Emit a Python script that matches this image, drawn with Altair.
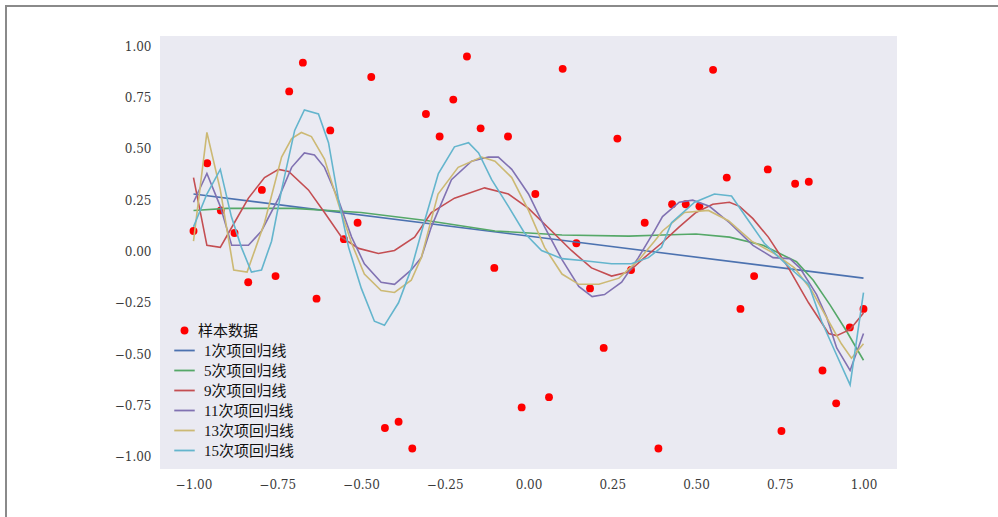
import altair as alt
import numpy as np
import pandas as pd

# ---- sample data (50 evenly spaced x values) ----
sample_x = list(np.round(np.linspace(-1, 1, 50), 4))
sample_y = [0.10, 0.43, 0.20, 0.09, -0.15, 0.30, -0.12, 0.78, 0.92, -0.23,
            0.59, 0.06, 0.14, 0.85, -0.86, -0.83, -0.96, 0.67, 0.56, 0.74,
            0.95, 0.60, -0.08, 0.56, -0.76, 0.28, -0.71, 0.89, 0.04, -0.18,
            -0.47, 0.55, -0.09, 0.14, -0.96, 0.23, 0.23, 0.22, 0.885, 0.36,
            -0.28, -0.12, 0.40, -0.875, 0.33, 0.34, -0.58, -0.74, -0.37, -0.28]

# ---- regression curves ----
d1_x = [-1.0, 1.0]
d1_y = [0.28, -0.13]

d5_x = [-1.0, -0.9, -0.7, -0.5, -0.3, -0.1, 0.1, 0.3, 0.4, 0.5, 0.6, 0.7, 0.75, 0.8, 0.85, 0.9, 0.95, 1.0]
d5_y = [0.20, 0.21, 0.21, 0.19, 0.15, 0.10, 0.08, 0.075, 0.08, 0.085, 0.07, 0.03, -0.01, -0.05, -0.14, -0.26, -0.39, -0.53]

d9_x = [-1.0, -0.96, -0.92, -0.878, -0.836, -0.788, -0.746, -0.716, -0.657, -0.609, -0.558, -0.507,
        -0.448, -0.40, -0.34, -0.29, -0.221, -0.131, -0.06, 0.0, 0.069, 0.128, 0.188, 0.248, 0.298,
        0.346, 0.397, 0.45, 0.50, 0.55, 0.60, 0.63, 0.67, 0.716, 0.776, 0.836, 0.896, 0.92, 0.96, 1.0]
d9_y = [0.36, 0.03, 0.02, 0.14, 0.26, 0.36, 0.40, 0.39, 0.30, 0.19, 0.07, 0.015,
        -0.01, 0.005, 0.07, 0.19, 0.26, 0.31, 0.28, 0.21, 0.10, 0.005, -0.08, -0.12, -0.10,
        -0.03, 0.04, 0.12, 0.19, 0.23, 0.24, 0.22, 0.16, 0.07, -0.08, -0.25, -0.40, -0.41, -0.38, -0.30]

d11_x = [-1.0, -0.96, -0.92, -0.886, -0.836, -0.797, -0.746, -0.707, -0.669, -0.639, -0.609, -0.567,
         -0.528, -0.49, -0.44, -0.40, -0.35, -0.32, -0.29, -0.23, -0.17, -0.12, -0.09, -0.05, 0.0,
         0.048, 0.10, 0.15, 0.19, 0.227, 0.278, 0.328, 0.376, 0.40, 0.45, 0.49, 0.54, 0.60, 0.67,
         0.73, 0.78, 0.81, 0.86, 0.89, 0.92, 0.96, 1.0]
d11_y = [0.24, 0.38, 0.22, 0.03, 0.03, 0.10, 0.26, 0.41, 0.48, 0.47, 0.41, 0.25,
         0.07, -0.06, -0.15, -0.16, -0.09, -0.03, 0.12, 0.35, 0.44, 0.46, 0.46, 0.40, 0.28,
         0.12, -0.04, -0.17, -0.22, -0.21, -0.15, -0.03, 0.10, 0.17, 0.24, 0.25, 0.22, 0.14, 0.03,
         -0.03, -0.035, -0.08, -0.21, -0.32, -0.47, -0.58, -0.40]

d13_x = [-1.0, -0.96, -0.92, -0.88, -0.84, -0.788, -0.737, -0.707, -0.678, -0.648, -0.609, -0.567,
         -0.528, -0.49, -0.44, -0.40, -0.35, -0.32, -0.27, -0.21, -0.14, -0.10, -0.05, 0.0, 0.048,
         0.10, 0.15, 0.21, 0.27, 0.33, 0.376, 0.40, 0.466, 0.537, 0.597, 0.666, 0.734, 0.794, 0.845,
         0.896, 0.934, 0.964, 1.0]
d13_y = [0.05, 0.58, 0.30, -0.09, -0.10, 0.14, 0.46, 0.55, 0.58, 0.56, 0.45, 0.23,
         0.04, -0.11, -0.19, -0.20, -0.14, -0.03, 0.28, 0.41, 0.46, 0.44, 0.36, 0.20, 0.02,
         -0.11, -0.16, -0.16, -0.13, -0.04, 0.05, 0.10, 0.19, 0.20, 0.15, 0.05, -0.01, -0.08, -0.19,
         -0.34, -0.45, -0.52, -0.45]

d15_x = [-1.0, -0.96, -0.92, -0.887, -0.857, -0.827, -0.797, -0.767, -0.737, -0.698, -0.669, -0.627,
         -0.597, -0.567, -0.537, -0.499, -0.46, -0.43, -0.388, -0.349, -0.31, -0.269, -0.221, -0.179,
         -0.149, -0.11, -0.06, -0.012, 0.039, 0.10, 0.167, 0.248, 0.307, 0.358, 0.397, 0.427, 0.496,
         0.555, 0.606, 0.657, 0.704, 0.755, 0.794, 0.836, 0.875, 0.913, 0.96, 1.0]
d15_y = [0.12, 0.28, 0.40, 0.17, 0.02, -0.10, -0.09, 0.05, 0.30, 0.59, 0.69, 0.67,
         0.53, 0.25, 0.02, -0.18, -0.34, -0.36, -0.25, -0.08, 0.15, 0.38, 0.51, 0.53,
         0.48, 0.35, 0.22, 0.09, 0.005, -0.035, -0.045, -0.06, -0.06, -0.03, 0.02, 0.14, 0.24,
         0.28, 0.27, 0.15, 0.04, -0.04, -0.10, -0.16, -0.34, -0.48, -0.65, -0.20]

series_names = ["1次项回归线", "5次项回归线", "9次项回归线", "11次项回归线", "13次项回归线", "15次项回归线"]
series_colors = ["#4C72B0", "#55A868", "#C44E52", "#8172B2", "#CCB974", "#64B5CD"]
curves = [(d1_x, d1_y), (d5_x, d5_y), (d9_x, d9_y), (d11_x, d11_y), (d13_x, d13_y), (d15_x, d15_y)]

rows = []
for name, (cx, cy) in zip(series_names, curves):
    for k, (a, b) in enumerate(zip(cx, cy)):
        rows.append({"x": a, "y": b, "series": name, "ord": k})
line_df = pd.DataFrame(rows)
pts_df = pd.DataFrame({"x": sample_x, "y": sample_y, "series": "样本数据"})

tick_vals = [-1.0, -0.75, -0.5, -0.25, 0.0, 0.25, 0.5, 0.75, 1.0]
xscale = alt.Scale(domain=[-1.1, 1.1], nice=False, zero=False)
yscale = alt.Scale(domain=[-1.06, 1.05], nice=False, zero=False)
xax = alt.Axis(values=tick_vals, format=".2f", title=None, labelPadding=10)
yax = alt.Axis(values=tick_vals, format=".2f", title=None, labelPadding=9)

legend_font = "Liberation Serif, Noto Sans CJK SC, serif"

scatter = alt.Chart(pts_df).mark_circle(size=62, opacity=1).encode(
    x=alt.X("x:Q", scale=xscale, axis=xax),
    y=alt.Y("y:Q", scale=yscale, axis=yax),
    fill=alt.Fill("series:N", scale=alt.Scale(domain=["样本数据"], range=["#FF0000"]),
                  legend=alt.Legend(title=None, orient="none", legendX=17, legendY=287,
                                    symbolType="circle", symbolSize=62, labelOffset=6,
                                    labelFont=legend_font, labelFontSize=15, labelColor="#111",
                                    padding=0, symbolOpacity=1)),
)

lines = alt.Chart(line_df).mark_line(strokeWidth=1.6).encode(
    x=alt.X("x:Q", scale=xscale, axis=xax),
    y=alt.Y("y:Q", scale=yscale, axis=yax),
    stroke=alt.Stroke("series:N", sort=series_names,
                      scale=alt.Scale(domain=series_names, range=series_colors),
                      legend=alt.Legend(title=None, orient="none", legendX=13, legendY=303,
                                        symbolType="stroke", symbolSize=420, symbolStrokeWidth=1.8,
                                        labelOffset=8, rowPadding=-5,
                                        labelFont=legend_font, labelFontSize=15, labelColor="#111",
                                        padding=0)),
    order="ord:Q",
)

frame_df = pd.DataFrame({"a": [0]})
frame_left = alt.Chart(frame_df).mark_rule(color="#8a8a8a", strokeWidth=2).encode(
    x=alt.value(-154), y=alt.value(-30), y2=alt.value(481))
frame_top = alt.Chart(frame_df).mark_rule(color="#8a8a8a", strokeWidth=2).encode(
    x=alt.value(-155), x2=alt.value(838), y=alt.value(-30))

chart = alt.layer(scatter, lines, frame_left, frame_top).resolve_scale(
    fill="independent", stroke="independent"
).properties(
    width=737, height=433,
    autosize=alt.AutoSizeParams(type="none"),
    padding={"left": 160, "top": 36, "right": 101, "bottom": 48},
    background="white",
).configure_view(
    fill="#EAEAF2", stroke=None
).configure_axis(
    grid=False, ticks=False, domain=False,
    labelFont="DejaVu Serif", labelFontSize=12, labelColor="#3a3a3a",
)

chart.save("out.html", embed_options={"renderer": "svg", "actions": False})
